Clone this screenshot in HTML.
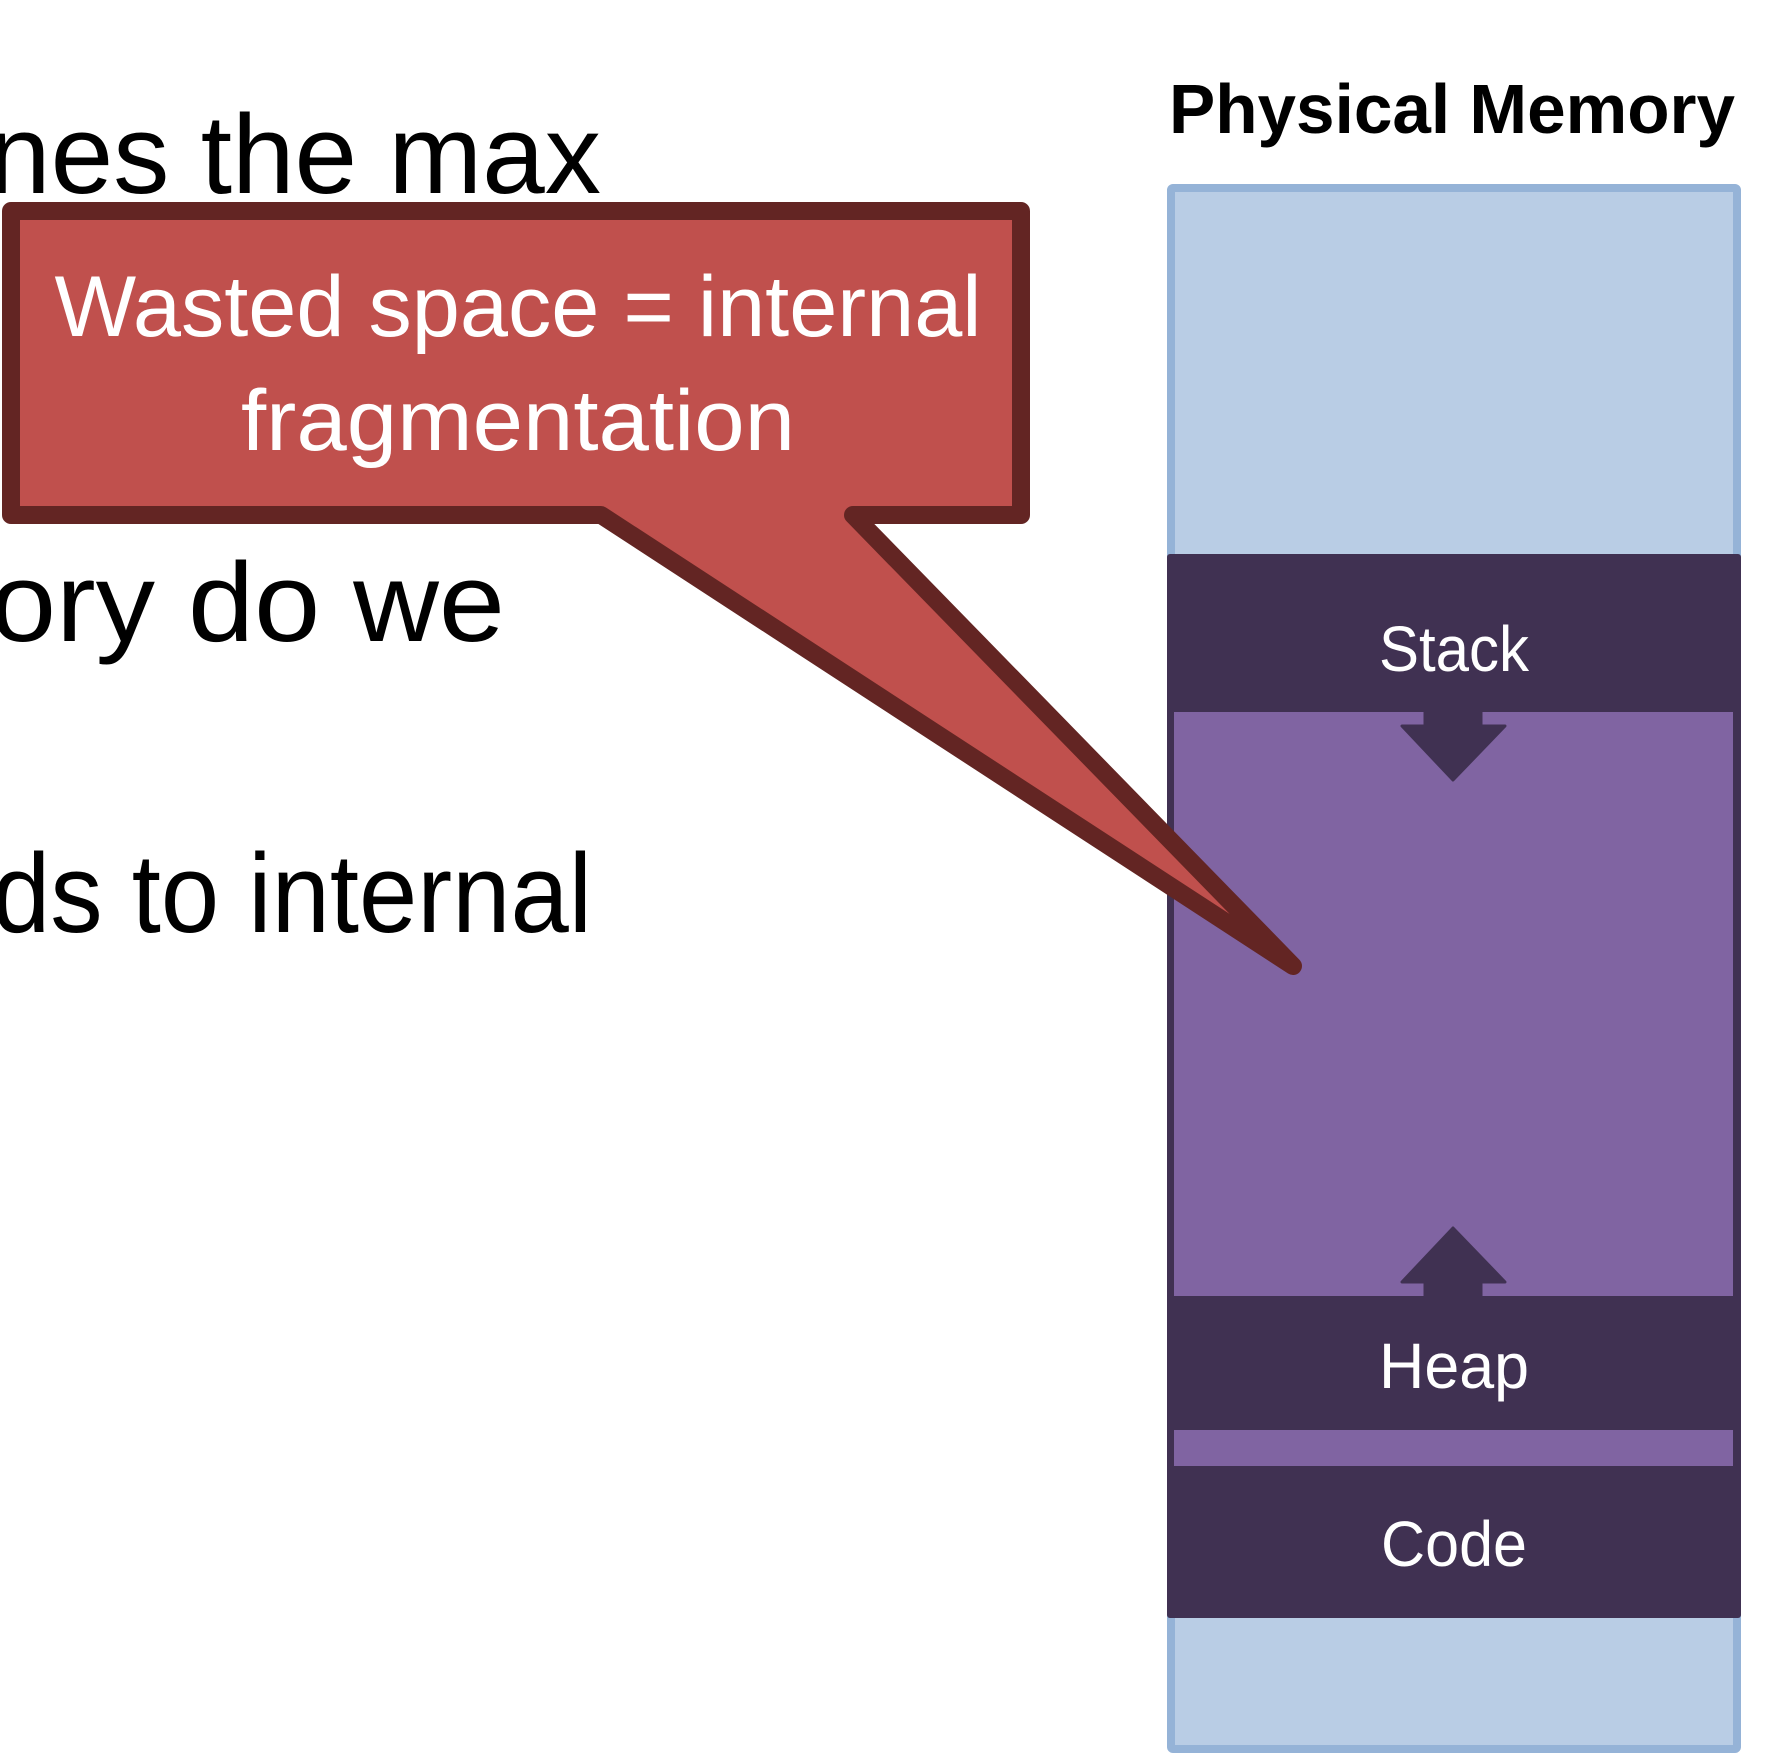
<!DOCTYPE html>
<html><head><meta charset="utf-8"><style>html,body{margin:0;padding:0;background:#fff;}svg{display:block;}</style></head>
<body>
<svg width="1769" height="1756" viewBox="0 0 1769 1756" xmlns="http://www.w3.org/2000/svg">
<g font-family="Liberation Sans, sans-serif" fill="#000">
<text x="-12" y="193" font-size="112" textLength="613" lengthAdjust="spacingAndGlyphs">nes the max</text>
<text x="-10" y="641" font-size="112" textLength="515" lengthAdjust="spacingAndGlyphs">ory do we</text>
<text x="-8" y="932" font-size="112" textLength="600" lengthAdjust="spacingAndGlyphs">ds to internal</text>
<text x="1169" y="133" font-size="70" font-weight="bold" textLength="566" lengthAdjust="spacingAndGlyphs">Physical Memory</text>
</g>
<rect x="1171" y="188" width="566" height="1561" fill="#B9CDE5" stroke="#95B3D7" stroke-width="8" rx="2"/>
<rect x="1167" y="554" width="574" height="1064" fill="#403152" rx="3"/>
<rect x="1174" y="712" width="559" height="584" fill="#8064A2"/>
<rect x="1174" y="1430" width="559" height="36" fill="#8064A2"/>
<polygon points="1425,712 1481,712 1481,726 1505,726 1453,780 1402,726 1425,726" fill="#403152" stroke="#403152" stroke-width="3" stroke-linejoin="round"/>
<polygon points="1425,1296 1481,1296 1481,1282 1505,1282 1453,1228 1402,1282 1425,1282" fill="#403152" stroke="#403152" stroke-width="3" stroke-linejoin="round"/>
<g font-family="Liberation Sans, sans-serif" fill="#fff" font-size="64" text-anchor="middle">
<text x="1454" y="671" textLength="150" lengthAdjust="spacingAndGlyphs">Stack</text>
<text x="1454" y="1388" textLength="150" lengthAdjust="spacingAndGlyphs">Heap</text>
<text x="1454" y="1566" textLength="146" lengthAdjust="spacingAndGlyphs">Code</text>
</g>
<polygon points="11,211 1021,211 1021,515 853,515 1293,966 601,515 11,515" fill="#C0504D" stroke="#632523" stroke-width="18" stroke-linejoin="round"/>
<g font-family="Liberation Sans, sans-serif" fill="#fff" font-size="86" text-anchor="middle">
<text x="518" y="336" textLength="927" lengthAdjust="spacingAndGlyphs">Wasted space = internal</text>
<text x="518" y="450" textLength="554" lengthAdjust="spacingAndGlyphs">fragmentation</text>
</g>
</svg>
</body></html>
